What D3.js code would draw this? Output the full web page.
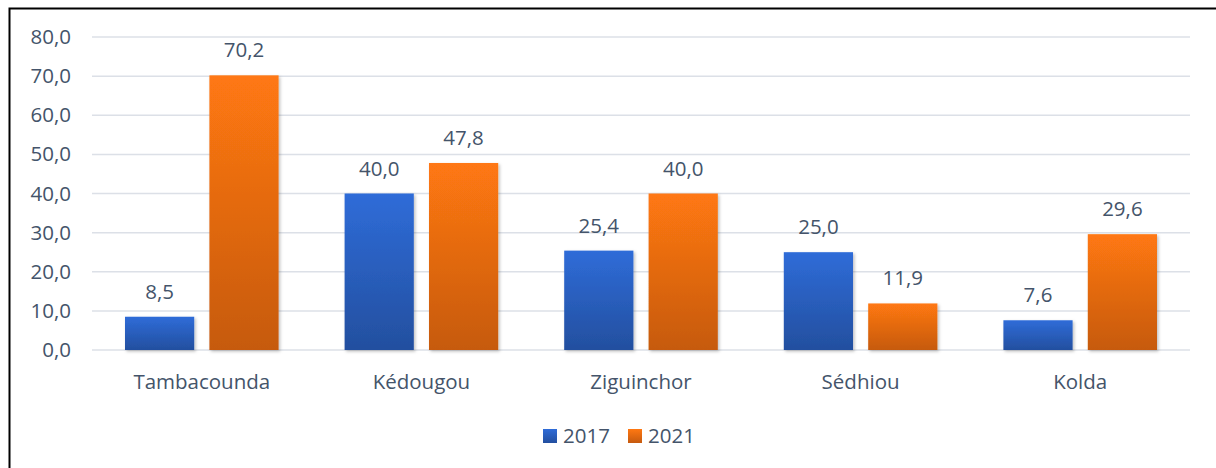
<!DOCTYPE html>
<html>
<head>
<meta charset="utf-8">
<script src="https://cdn.jsdelivr.net/npm/d3@7"></script>
<style>
  body { margin: 0; background: #fff; }
  text { font-family: 'Open Sans', 'Noto Sans', sans-serif; fill: #44546A; }
</style>
</head>
<body>
<script>
const regions = ['Tambacounda', 'Kédougou', 'Ziguinchor', 'Sédhiou', 'Kolda']
const years = ['2017', '2021']
const values2017 = [8.5, 40.0, 25.4, 25.0, 7.6]
const values2021 = [70.2, 47.8, 40.0, 11.9, 29.6]
const yTicks = [0, 10, 20, 30, 40, 50, 60, 70, 80]

const width = 1216
const height = 468
const fontSize = 20.5
const fmt = (v) => v.toFixed(1).replace('.', ',')

const svg = d3.select('body')
  .append('svg')
  .attr('width', width)
  .attr('height', height)

const defs = svg.append('defs')

const grad = (id, top, bottom) => {
  const g = defs.append('linearGradient')
    .attr('id', id)
    .attr('x1', 0).attr('y1', 0)
    .attr('x2', 0).attr('y2', 1)
  g.append('stop').attr('offset', '0%').attr('stop-color', top)
  g.append('stop').attr('offset', '100%').attr('stop-color', bottom)
}
grad('g2017', '#2F6CD8', '#234F9F')
grad('g2021', '#FF7812', '#C65A0F')

defs.append('filter')
  .attr('id', 'shadow')
  .attr('x', '-20%').attr('y', '-20%')
  .attr('width', '140%').attr('height', '140%')
  .append('feDropShadow')
  .attr('dx', 1.5).attr('dy', 1.5)
  .attr('stdDeviation', 1.5)
  .attr('flood-color', '#000')
  .attr('flood-opacity', 0.25)

// frame
svg.append('path')
  .attr('d', `M9.5,${height} V8.5 H${width}`)
  .attr('fill', 'none')
  .attr('stroke', '#000')
  .attr('stroke-width', 2)

const x0 = d3.scaleBand()
  .domain(regions)
  .range([92, 1190])

const x1 = d3.scaleBand()
  .domain(years)
  .range([33, x0.bandwidth() - 33])
  .paddingInner(0.18)

const y = d3.scaleLinear()
  .domain([0, 80])
  .range([350, 37])

// gridlines
svg.append('g')
  .selectAll('line')
  .data(yTicks)
  .join('line')
  .attr('x1', 92)
  .attr('x2', 1190)
  .attr('y1', (d) => y(d))
  .attr('y2', (d) => y(d))
  .attr('stroke', '#DCE0E7')
  .attr('stroke-width', 1.5)

const yAxis = svg.append('g')
  .attr('transform', 'translate(71,0)')
  .call(d3.axisLeft(y).tickValues(yTicks).tickFormat(fmt).tickSize(0).tickPadding(0))

yAxis.attr('font-size', null).attr('font-family', null)
yAxis.select('.domain').remove()
yAxis.selectAll('text')
  .attr('font-size', fontSize)
  .attr('fill', null)

const data = regions.map((r, i) => ({
  region: r,
  bars: [
    { year: '2017', value: values2017[i] },
    { year: '2021', value: values2021[i] }
  ]
}))

const groups = svg.append('g')
  .selectAll('g')
  .data(data)
  .join('g')
  .attr('transform', (d) => `translate(${x0(d.region)},0)`)

groups.selectAll('rect')
  .data((d) => d.bars)
  .join('rect')
  .attr('x', (d) => x1(d.year))
  .attr('width', x1.bandwidth())
  .attr('y', (d) => y(d.value))
  .attr('height', (d) => y(0) - y(d.value))
  .attr('fill', (d) => `url(#g${d.year})`)
  .attr('filter', 'url(#shadow)')

groups.selectAll('text.val')
  .data((d) => d.bars)
  .join('text')
  .attr('class', 'val')
  .attr('x', (d) => x1(d.year) + x1.bandwidth() / 2)
  .attr('y', (d) => y(d.value) - 18)
  .attr('text-anchor', 'middle')
  .attr('font-size', fontSize)
  .text((d) => fmt(d.value))

svg.append('g')
  .selectAll('text')
  .data(regions)
  .join('text')
  .attr('x', (d) => x0(d) + x0.bandwidth() / 2)
  .attr('y', 389)
  .attr('text-anchor', 'middle')
  .attr('font-size', fontSize)
  .text((d) => d)

// legend
const legend = svg.append('g')
  .attr('transform', 'translate(543,0)')

const items = legend.selectAll('g')
  .data(years)
  .join('g')
  .attr('transform', (d, i) => `translate(${i * 85},0)`)

items.append('rect')
  .attr('y', 429)
  .attr('width', 14)
  .attr('height', 14)
  .attr('fill', (d) => `url(#g${d})`)

items.append('text')
  .attr('x', 20)
  .attr('y', 443)
  .attr('font-size', fontSize)
  .text((d) => d)
</script>
</body>
</html>
